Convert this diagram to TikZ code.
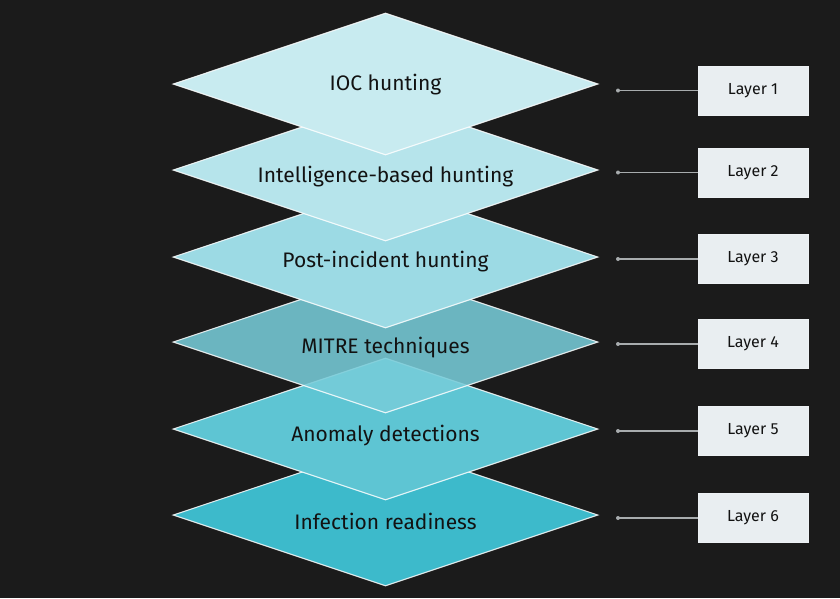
\documentclass[tikz,border=0pt]{standalone}
\usepackage{fontspec}
\setmainfont{Fira Sans}
\usetikzlibrary{shapes.geometric}
\definecolor{bgc}{HTML}{1B1B1B}
\definecolor{dA}{HTML}{C8EBF0}
\definecolor{dB}{HTML}{B6E4EB}
\definecolor{dC}{HTML}{9CDAE4}
\definecolor{dD}{HTML}{77CCD9}
\definecolor{dE}{HTML}{5EC5D3}
\definecolor{dF}{HTML}{3DBACB}
\definecolor{boxc}{HTML}{E9EEF1}
\definecolor{txtc}{HTML}{121212}
\definecolor{linec}{HTML}{A8ACAE}
\tikzset{
  layer/.style={diamond, shape aspect=3, minimum width=425pt, minimum height=142pt,
    inner sep=0pt, draw=white, draw opacity=0.85, line width=1.1pt},
  lbl/.style={text=txtc, inner sep=0pt, font=\fontsize{21}{24}\selectfont},
  tagbox/.style={rectangle, minimum width=110pt, minimum height=49pt, inner sep=0pt,
    fill=boxc, draw=boxc!80!white, line width=0.6pt, text=txtc,
    font=\fontsize{16}{19}\selectfont},
  leader/.style={draw=linec, line width=1.1pt},
  dotc/.style={circle, fill=linec, inner sep=0pt, minimum size=4pt}
}
\begin{document}
\begin{tikzpicture}[x=1pt,y=-1pt]
\fill[bgc] (0,0) rectangle (840,598);
\useasboundingbox (0,0) rectangle (840,598);
% diamonds, bottom to top
\node[layer, fill=dF] (d6) at (385.5,515) {};
\node[layer, fill=dE] (d5) at (385.5,429) {};
\node[layer, fill=dD, fill opacity=0.87] (d4) at (385.5,342) {};
\node[layer, fill=dC] (d3) at (385.5,257) {};
\node[layer, fill=dB] (d2) at (385.5,170) {};
\node[layer, fill=dA] (d1) at (385.5,84) {};
% texts
\node[lbl] (t1) at ([yshift=-1pt]d1.center) {IOC hunting};
\node[lbl] (t2) at ([yshift=-7pt]d2.center) {Intelligence-based hunting};
\node[lbl] (t3) at ([yshift=-5pt]d3.center) {Post-incident hunting};
\node[lbl] (t4) at ([yshift=-6pt]d4.center) {MITRE techniques};
\node[lbl] (t5) at ([yshift=-7pt]d5.center) {Anomaly detections};
\node[lbl] (t6) at ([yshift=-6pt]d6.center) {Infection readiness};
% labels
\foreach \i/\yy in {1/90.5, 2/172.5, 3/259, 4/344, 5/431, 6/518}{
  \node[tagbox] (l\i) at (753,\yy) {Layer \i};
  \coordinate (c\i) at (618,\yy);
  \draw[leader] (c\i) -- (l\i.west);
  \node[dotc] at (c\i) {};
}
\end{tikzpicture}
\end{document}
